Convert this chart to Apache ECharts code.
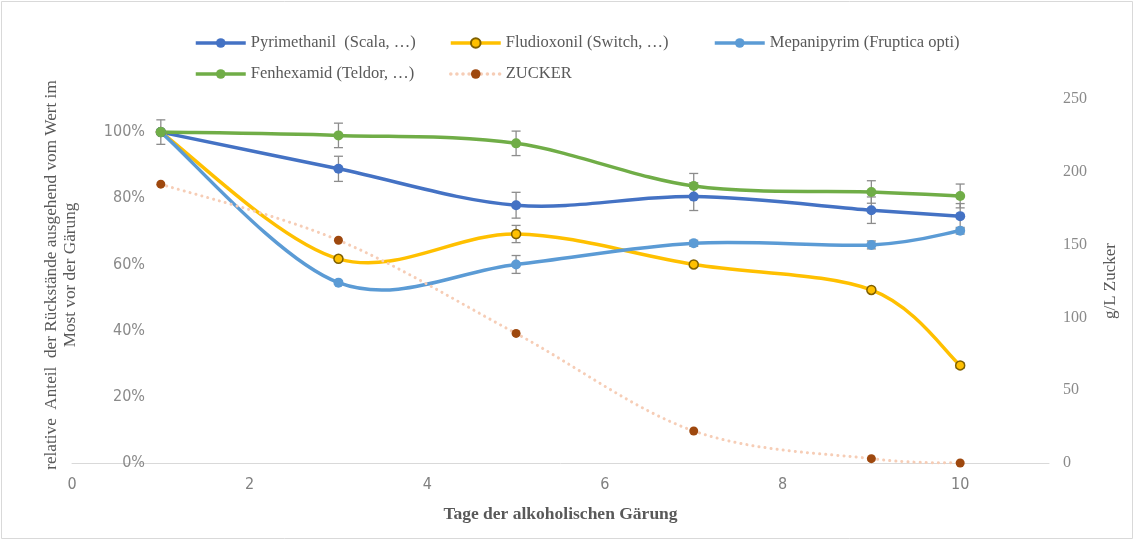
<!DOCTYPE html>
<html>
<head>
<meta charset="utf-8">
<script src="https://cdn.jsdelivr.net/npm/echarts@6/dist/echarts.min.js"></script>
<style>
  html, body { margin: 0; padding: 0; background: #ffffff; }
  #chart { width: 1135px; height: 541px; }
</style>
</head>
<body>
<div id="chart"></div>
<script>
// Fermentation days at which residues and sugar were measured
const days = [1, 3, 5, 7, 9, 10];

// Relative residue share (1 = value in the must before fermentation) and standard deviations
const pyrimethanil    = [1.000, 0.889, 0.779, 0.805, 0.764, 0.746];
const pyrimethanilErr = [0.037, 0.038, 0.039, 0.042, 0.040, 0.038];
const fludioxonil     = [1.000, 0.617, 0.692, 0.600, 0.523, 0.295];
const fludioxonilErr  = [0.000, 0.004, 0.026, 0.005, 0.005, 0.008];
const mepanipyrim     = [1.000, 0.545, 0.600, 0.664, 0.659, 0.702];
const mepanipyrimErr  = [0.000, 0.004, 0.027, 0.009, 0.012, 0.010];
const fenhexamid      = [1.000, 0.990, 0.966, 0.837, 0.819, 0.807];
const fenhexamidErr   = [0.000, 0.037, 0.037, 0.038, 0.034, 0.036];

// Sugar content in g/L (right axis)
const zucker = [191.5, 153, 89, 22, 3, 0];

// Tick labels
const xTicks = [0, 2, 4, 6, 8, 10];
const pctTicks = [0, 20, 40, 60, 80, 100];

const NAMES = {
  pyr: 'Pyrimethanil  (Scala, …)',
  flu: 'Fludioxonil (Switch, …)',
  mep: 'Mepanipyrim (Fruptica opti)',
  fen: 'Fenhexamid (Teldor, …)',
  zuc: 'ZUCKER'
};

const serif = '"Liberation Serif", "Times New Roman", serif';
const narrow = '"Liberation Sans Narrow", "DejaVu Sans Condensed", "Open Sans", sans-serif';

function pairs(values) {
  return days.map((d, i) => [d, values[i]]);
}

// Smoothed curve: one cubic Bézier per interval, tangents taken from the
// neighbouring points (Catmull-Rom style, 1/6 of the neighbour span).
function curveSeries(values, color, width, yAxisIndex, dash) {
  const segs = days.slice(0, -1).map((d, i) => [d, values[i]]);
  return {
    type: 'custom',
    yAxisIndex: yAxisIndex,
    data: segs,
    encode: { x: 0, y: 1 },
    silent: true,
    z: 2,
    renderItem: function (params, api) {
      const i = params.dataIndex;
      const n = days.length;
      const pt = k => api.coord([days[Math.max(0, Math.min(n - 1, k))], values[Math.max(0, Math.min(n - 1, k))]]);
      const p0 = pt(i - 1), p1 = pt(i), p2 = pt(i + 1), p3 = pt(i + 2);
      const t = 1 / 6;
      const style = { stroke: color, lineWidth: width, fill: null, lineCap: 'round' };
      if (dash) { style.lineDash = dash; }
      return {
        type: 'bezierCurve',
        shape: {
          x1: p1[0], y1: p1[1],
          cpx1: p1[0] + (p2[0] - p0[0]) * t, cpy1: p1[1] + (p2[1] - p0[1]) * t,
          cpx2: p2[0] - (p3[0] - p1[0]) * t, cpy2: p2[1] - (p3[1] - p1[1]) * t,
          x2: p2[0], y2: p2[1]
        },
        style: style
      };
    }
  };
}

// Markers (and legend entries) for each series
function markerSeries(name, values, color, extra) {
  return Object.assign({
    name: name,
    type: 'line',
    data: pairs(values),
    symbol: 'circle',
    symbolSize: 10,
    showSymbol: true,
    lineStyle: { color: color, width: 0 },
    itemStyle: { color: color },
    z: 4,
    emphasis: { disabled: true }
  }, extra || {});
}

// Vertical whiskers with caps for the standard deviations
function errorSeries(values, errs) {
  const data = [];
  days.forEach((d, i) => { if (errs[i] > 0) data.push([d, values[i], errs[i]]); });
  return {
    type: 'custom',
    yAxisIndex: 0,
    data: data,
    encode: { x: 0, y: 1 },
    z: 3,
    silent: true,
    renderItem: function (params, api) {
      const x = api.value(0), v = api.value(1), e = api.value(2);
      const top = api.coord([x, v + e]);
      const bot = api.coord([x, v - e]);
      const hw = 4.5;
      const style = { stroke: '#8c8c8c', lineWidth: 1.3 };
      return {
        type: 'group',
        children: [
          { type: 'line', shape: { x1: top[0], y1: top[1], x2: bot[0], y2: bot[1] }, style: style },
          { type: 'line', shape: { x1: top[0] - hw, y1: top[1], x2: top[0] + hw, y2: top[1] }, style: style },
          { type: 'line', shape: { x1: bot[0] - hw, y1: bot[1], x2: bot[0] + hw, y2: bot[1] }, style: style }
        ]
      };
    }
  };
}

const legendBase = {
  orient: 'vertical',
  top: 29,
  itemWidth: 50,
  itemHeight: 12,
  itemGap: 13,
  selectedMode: false,
  lineStyle: { width: 3.5, opacity: 1 },
  textStyle: { fontFamily: serif, fontSize: 16.5, color: '#595959', lineHeight: 18 }
};

const zuckerLine = '#F6CDB6';

const option = {
  backgroundColor: '#ffffff',
  animation: false,
  legend: [
    Object.assign({}, legendBase, { left: 189, data: [NAMES.pyr, NAMES.fen] }),
    Object.assign({}, legendBase, { left: 444, data: [NAMES.flu, NAMES.zuc] }),
    Object.assign({}, legendBase, { left: 708, data: [NAMES.mep] })
  ],
  grid: { left: 72, right: 86, top: 99, bottom: 78 },
  xAxis: {
    type: 'value',
    min: 0,
    max: 11,
    interval: 2,
    axisLine: { show: true, lineStyle: { color: '#d9d9d9', width: 1 } },
    axisTick: { show: false },
    splitLine: { show: false },
    axisLabel: {
      margin: 14,
      fontFamily: narrow,
      fontSize: 16,
      color: '#808080',
      formatter: v => (xTicks.indexOf(v) >= 0 ? String(v) : '')
    },
    name: 'Tage der alkoholischen Gärung',
    nameLocation: 'middle',
    nameGap: 42,
    nameTextStyle: { fontFamily: serif, fontSize: 17.5, fontWeight: 'bold', color: '#595959' }
  },
  yAxis: [
    {
      type: 'value',
      min: 0,
      max: 1.1,
      interval: 0.2,
      offset: -89,
      axisLine: { show: false },
      axisTick: { show: false },
      splitLine: { show: false },
      axisLabel: {
        margin: 16,
        fontFamily: narrow,
        fontSize: 16,
        color: '#8a8a8a',
        formatter: v => {
          const p = Math.round(v * 100);
          return pctTicks.indexOf(p) >= 0 ? p + '%' : '';
        }
      },
      name: 'relative  Anteil  der Rückstände ausgehend vom Wert im\nMost vor der Gärung',
      nameLocation: 'middle',
      nameRotate: 90,
      nameGap: 81,
      nameTextStyle: {
        fontFamily: serif, fontSize: 17.2, color: '#595959', lineHeight: 19,
        align: 'center', padding: [0, 0, 0, 12]
      }
    },
    {
      type: 'value',
      position: 'right',
      min: 0,
      max: 250,
      interval: 50,
      axisLine: { show: false },
      axisTick: { show: false },
      splitLine: { show: false },
      axisLabel: { margin: 14, fontFamily: serif, fontSize: 16, color: '#8a8a8a' },
      name: 'g/L Zucker',
      nameLocation: 'middle',
      nameRotate: 90,
      nameGap: 53,
      nameTextStyle: { fontFamily: serif, fontSize: 17, color: '#595959' }
    }
  ],
  series: [
    curveSeries(pyrimethanil, '#4472C4', 3.5, 0),
    errorSeries(pyrimethanil, pyrimethanilErr),
    markerSeries(NAMES.pyr, pyrimethanil, '#4472C4'),

    curveSeries(fludioxonil, '#FFC000', 3.5, 0),
    errorSeries(fludioxonil, fludioxonilErr),
    markerSeries(NAMES.flu, fludioxonil, '#FFC000', {
      symbolSize: 9,
      itemStyle: { color: '#FFC000', borderColor: '#7F6000', borderWidth: 1.5 }
    }),

    curveSeries(mepanipyrim, '#5B9BD5', 3.5, 0),
    errorSeries(mepanipyrim, mepanipyrimErr),
    markerSeries(NAMES.mep, mepanipyrim, '#5B9BD5'),

    curveSeries(fenhexamid, '#70AD47', 3.5, 0),
    errorSeries(fenhexamid, fenhexamidErr),
    markerSeries(NAMES.fen, fenhexamid, '#70AD47'),

    curveSeries(zucker, zuckerLine, 3, 1, [0.1, 6]),
    markerSeries(NAMES.zuc, zucker, '#9E480E', {
      yAxisIndex: 1,
      symbolSize: 9,
      lineStyle: { color: zuckerLine, width: 0, type: [0.1, 6], cap: 'round' },
      itemStyle: { color: '#9E480E' }
    })
  ],
  graphic: [
    {
      type: 'rect',
      shape: { x: 1.5, y: 1.5, width: 1131, height: 537 },
      style: { fill: null, stroke: '#d9d9d9', lineWidth: 1 },
      silent: true,
      z: -10
    }
  ]
};

const chart = echarts.init(document.getElementById('chart'), null, { renderer: 'canvas' });
chart.setOption(option);
</script>
</body>
</html>
